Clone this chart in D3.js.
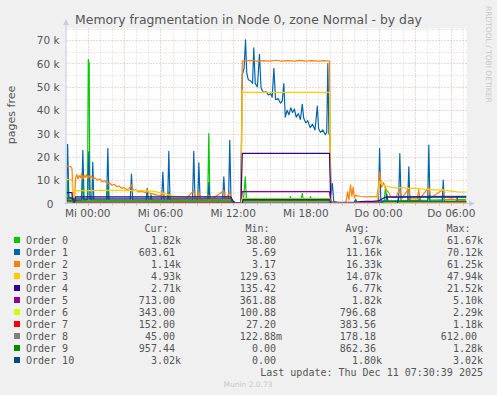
<!DOCTYPE html>
<html>
<head>
<meta charset="utf-8">
<script src="https://cdn.jsdelivr.net/npm/d3@7/dist/d3.min.js"></script>
<style>
body { margin: 0; background: #f0f0f0; }
svg { display: block; }
text { font-family: "DejaVu Sans", sans-serif; }
.mono { font-family: "DejaVu Sans Mono", monospace; font-size: 10px; fill: #555; }
</style>
</head>
<body>
<svg id="chart" width="497" height="395"></svg>
<script>
// samples: [hours since Mi 00:00, thousand pages free]
var order0 = [[-1.75,1.0],[-1.7,1.1],[-1.65,10],[-1.55,1.2],[-1.25,0.8],[-1.12,0.3],[-1.0,1.2],[-0.5,1.3],[-0.42,13],[-0.34,1.4],[-0.02,1.5],[0.05,61.7],[0.12,60],[0.18,1.5],[0.8,1.3],[1.58,1.5],[1.66,8],[1.74,1.4],[3.0,1.2],[5.15,1.3],[5.22,4],[5.3,1.2],[6.62,1.2],[6.7,5],[6.78,1.2],[9.9,1.3],[9.99,30],[10.08,1.3],[11.2,1.2],[11.8,1.0],[12.15,0.1],[12.7,0.2],[12.85,1.5],[13.0,11.4],[13.1,1.5],[16.65,1.5],[16.73,3],[16.8,1.5],[17.62,1.6],[17.7,4.2],[17.78,1.6],[18.3,1.5],[18.38,3],[18.45,1.5],[19.95,1.5],[20.1,0.3],[22.0,0.4],[22.1,2],[22.2,0.5],[24.45,0.8],[24.57,7],[24.7,0.9],[26.45,1.2],[26.52,3],[26.6,1.2],[28.05,1.5],[28.14,3.5],[28.22,1.5],[30.5,1.7],[31.25,1.82]];
var order1 = [[-1.75,2],[-1.66,25.4],[-1.56,3],[-1.3,2],[-1.15,0.5],[-1.0,1.5],[-0.5,1.5],[-0.4,22.8],[-0.3,1.5],[0.0,1.8],[0.09,22.1],[0.2,2],[0.34,1.5],[0.42,17.6],[0.5,1.5],[1.56,1.5],[1.66,23.6],[1.76,1.5],[3.51,1.5],[3.61,12.6],[3.71,1.5],[4.82,1.5],[4.91,6.5],[5.0,1.5],[6.1,1.5],[6.2,13.5],[6.3,1.5],[6.6,1.5],[6.69,22.4],[6.79,1.5],[8.65,1.5],[8.75,22.4],[8.85,1.5],[9.08,1.5],[9.17,17.4],[9.27,1.5],[9.92,1.5],[10.0,9],[10.08,1.5],[11.13,1.5],[11.23,11.4],[11.33,1.5],[11.62,1.5],[11.72,27.1],[11.82,1.2],[12.0,0.5],[12.62,0.2],[12.75,55],[12.9,58],[13.02,70.1],[13.12,56],[13.25,53],[13.45,52.5],[13.6,51.5],[13.7,66.7],[13.82,51.5],[14.0,50],[14.17,63.9],[14.3,49.5],[14.5,47.5],[14.7,48],[14.9,46.5],[15.1,47],[15.22,45.5],[15.36,57.9],[15.5,44.5],[15.7,45],[15.91,43],[16.05,44],[16.18,51.4],[16.3,37],[16.45,40],[16.6,38],[16.75,41],[16.9,39],[17.05,40.5],[17.2,37],[17.38,38.5],[17.55,36],[17.7,42.5],[17.82,36.5],[18.0,34.5],[18.15,35.5],[18.35,32.5],[18.55,34],[18.75,31.5],[18.94,41.7],[19.05,32],[19.2,30.5],[19.4,31.5],[19.6,29.5],[19.72,30.5],[19.81,60],[19.9,30],[19.98,29],[20.08,4],[20.18,8.5],[20.3,0.8],[20.6,0.5],[22.0,0.4],[22.1,1.5],[22.2,0.5],[23.98,0.6],[24.08,23.6],[24.18,1.2],[24.6,1.0],[24.68,4],[24.76,1.0],[25.65,1.0],[25.75,21.4],[25.85,1.0],[26.4,1.0],[26.49,15.7],[26.58,1.0],[27.3,1.0],[27.38,3],[27.46,1.0],[28.05,1.0],[28.14,25],[28.23,1.0],[29.25,1.0],[29.33,10],[29.42,0.9],[30.4,0.8],[30.48,2.5],[30.56,0.7],[31.25,0.6]];
var order2 = [[-1.75,16],[-1.4,15.8],[-1.3,15],[-1.2,3],[-1.1,1],[-1.0,11],[-0.9,12.5],[-0.8,10.5],[-0.7,12],[-0.6,11],[-0.5,12.8],[-0.4,10.5],[-0.3,12],[-0.2,11.2],[-0.1,12.5],[0.0,10.8],[0.1,12],[0.2,11],[0.3,11.8],[0.45,10.5],[0.6,11],[0.8,10],[1.0,10.5],[1.2,9.3],[1.4,9.8],[1.6,8.5],[1.8,8.8],[2.0,7.8],[2.2,8.2],[2.4,7.2],[2.6,7.5],[2.8,6.5],[3.0,6.8],[3.2,6],[3.4,6.2],[3.61,8],[3.75,5.6],[4.0,5.8],[4.2,5],[4.5,5.2],[4.8,4.6],[4.91,6],[5.0,4.5],[5.3,4.2],[5.6,3.8],[6.0,3.2],[6.2,5],[6.35,2.5],[6.69,4],[6.8,2],[7.5,1.8],[8.0,1.5],[8.75,5.5],[8.9,1.5],[9.17,5],[9.3,1.5],[10.0,3.5],[10.1,1.4],[11.23,5.5],[11.35,1.4],[11.72,5],[11.85,1.0],[12.1,0.3],[12.65,0.3],[12.75,61],[13.5,61.3],[14,61],[14.5,61.2],[15,61],[15.5,61.4],[16,61],[16.5,61.2],[17,61],[17.5,61.3],[18,61],[18.5,61.2],[19,61],[19.5,61.2],[19.95,61],[20.05,1],[20.3,0.4],[21.3,0.5],[21.44,5],[21.55,1.5],[21.68,8],[21.8,3],[21.9,7],[22.0,2.5],[22.1,3.5],[22.5,3],[23,2.8],[23.5,3],[23.85,2.8],[24.0,8],[24.08,13.5],[24.25,7],[24.4,9],[24.6,6],[24.8,5],[25.0,3],[25.4,2.5],[25.75,6],[25.9,2],[26.49,6.5],[26.6,2],[27.2,2],[27.3,6],[27.4,2],[28.14,7],[28.3,2.5],[29.33,6],[29.45,1.5],[30.0,2],[30.5,1.5],[31.25,1.14]];
var order3 = [[-1.75,10.2],[-1.3,10.2],[-1.25,5],[-1.15,0.5],[-1.05,5.5],[0,5.5],[2,5.6],[4,5.5],[5.0,5.4],[5.5,5.2],[6.0,4.6],[6.5,4],[7.0,3.3],[7.5,2.8],[8.0,2.5],[9.0,2.3],[10.0,2.0],[11.0,2.0],[11.8,1.8],[12.1,0.5],[12.65,0.4],[12.75,48.5],[12.9,47.6],[19.95,47.6],[20.05,0.5],[23.9,0.4],[24.05,9.5],[24.3,8],[24.6,7.5],[25.0,7],[25.5,6.6],[26.0,6.8],[26.5,6.5],[27.0,6.6],[27.5,6.3],[28.0,6.2],[28.5,5.8],[29.0,5.8],[29.5,5.6],[30.0,5.3],[30.5,5.0],[31.25,4.93]];
var order4 = [[-1.75,4.7],[-1.3,4.7],[-1.25,0.5],[-1.1,0.3],[-1.0,2.9],[11.8,2.9],[12.0,1.0],[12.2,0.3],[12.65,0.2],[12.75,21.5],[19.95,21.5],[20.05,0.3],[21.0,0.2],[22.0,0.3],[22.5,0.8],[23.0,0.9],[23.5,0.9],[24.0,1.1],[24.3,2.0],[24.6,2.8],[31.25,2.71]];
var order5 = [[-1.75,1.5],[11.8,1.5],[12.1,0.4],[12.65,0.4],[12.75,5.1],[19.95,5.1],[20.05,0.5],[24,0.5],[24.5,0.7],[31.25,0.71]];
var order6 = [[-1.75,0.7],[-1.0,0.8],[0,1.0],[11.8,1.0],[12.1,0.2],[12.65,0.1],[12.75,2.2],[19.95,2.2],[20.05,0.2],[24,0.2],[24.5,0.35],[31.25,0.34]];
var order7 = [[-1.75,1.18],[-1.2,1.1],[-1.0,0.4],[11.8,0.4],[12.1,0.05],[12.75,0.05],[12.8,0.6],[19.95,0.6],[20.05,0.1],[31.25,0.15]];
var order8 = [[-1.75,0.3],[11.8,0.2],[12.1,0],[12.75,0],[12.8,0.4],[19.95,0.4],[20.05,0.05],[31.25,0.045]];
var order9 = [[-1.75,1.0],[11.8,1.0],[12.1,0],[12.75,0],[12.8,1.2],[19.95,1.2],[20.05,0.0],[24.0,0.1],[24.5,0.9],[31.25,0.96]];
var order10 = [[-1.75,2.3],[-1.2,2.3],[-1.1,0.3],[-1.0,2.3],[11.8,2.3],[12.1,0],[12.75,0],[12.8,1.8],[19.95,1.8],[20.05,0],[25.55,0],[25.64,3.0],[31.25,3.02]];

var names = ["Order 0","Order 1","Order 2","Order 3","Order 4","Order 5","Order 6","Order 7","Order 8","Order 9","Order 10"];
var colors = ["#00CC00","#0066B3","#FF8000","#FFCC00","#330099","#990099","#CCFF00","#FF0000","#808080","#008F00","#00487D"];
var curVals = ["1.82k","603.61","1.14k","4.93k","2.71k","713.00","343.00","152.00","45.00","957.44","3.02k"];
var minVals = ["38.80","5.69","3.17","129.63","135.42","361.88","100.88","27.20","122.88m","0.00","0.00"];
var avgVals = ["1.67k","11.16k","16.33k","14.07k","6.77k","1.82k","796.68","383.56","178.18","862.36","1.80k"];
var maxVals = ["61.67k","70.12k","61.25k","47.94k","21.52k","5.10k","2.29k","1.18k","612.00","1.28k","3.02k"];
var yTicks = [0,10,20,30,40,50,60,70];
var dayNames = ["So","Mo","Di","Mi","Do","Fr","Sa"];

var series = [order0, order1, order2, order3, order4, order5, order6, order7, order8, order9, order10];

var base = new Date(2025, 11, 10, 0, 0, 0);
function toDate(h) { return new Date(base.getTime() + h * 3600e3); }

var svg = d3.select("#chart"),
    margin = {left: 66.5, right: 466.5, top: 28.5, bottom: 203.5};

var x = d3.scaleTime()
	.domain([toDate(-1.75), toDate(31.25)])
	.range([margin.left, margin.right]);
var y = d3.scaleLinear()
	.domain([0, 75])
	.range([margin.bottom, margin.top]);

svg.append("rect")
	.attr("x", margin.left).attr("y", margin.top)
	.attr("width", margin.right - margin.left).attr("height", margin.bottom - margin.top)
	.attr("fill", "#fff");

// grid
var hours = d3.timeHour.every(1).range(x.domain()[0], x.domain()[1]);
var grid = svg.append("g").attr("fill", "none").attr("stroke-width", 1).attr("stroke-dasharray", "1,2");
grid.selectAll(".vg").data(hours).enter().append("line")
	.attr("x1", d => Math.round(x(d)) + 0.5).attr("x2", d => Math.round(x(d)) + 0.5)
	.attr("y1", margin.top).attr("y2", margin.bottom)
	.attr("stroke", d => d.getHours() % 3 === 0 ? "#e8a8a8" : "#d4d4d4");
grid.selectAll(".hg").data(d3.range(5, 80, 5)).enter().append("line")
	.attr("x1", margin.left).attr("x2", margin.right)
	.attr("y1", d => Math.round(y(d)) + 0.5).attr("y2", d => Math.round(y(d)) + 0.5)
	.attr("stroke", d => d % 10 === 0 ? "#e8a8a8" : "#d4d4d4");

// lines
svg.append("clipPath").attr("id", "clip").append("rect")
	.attr("x", margin.left).attr("y", margin.top - 2)
	.attr("width", margin.right - margin.left).attr("height", margin.bottom - margin.top + 2);

var line = d3.line()
	.x(d => x(toDate(d[0])))
	.y(d => y(d[1]));

svg.append("g").attr("clip-path", "url(#clip)")
	.selectAll("path").data(series).enter().append("path")
	.attr("fill", "none")
	.attr("stroke", (d, i) => colors[i])
	.attr("stroke-width", 1.2)
	.attr("stroke-linejoin", "round")
	.attr("d", line);

// axes
var axisColor = "#c8cce8";
svg.append("line").attr("x1", margin.left - 0.5).attr("x2", margin.left - 0.5)
	.attr("y1", margin.bottom + 1).attr("y2", 24).attr("stroke", axisColor);
svg.append("line").attr("x1", margin.left - 2).attr("x2", 470)
	.attr("y1", margin.bottom).attr("y2", margin.bottom).attr("stroke", axisColor);
svg.append("path").attr("d", "M" + (margin.left - 3.5) + ",25L" + (margin.left - 0.5) + ",19L" + (margin.left + 2.5) + ",25Z").attr("fill", axisColor);
svg.append("path").attr("d", "M469," + (margin.bottom - 3) + "L475," + margin.bottom + "L469," + (margin.bottom + 3) + "Z").attr("fill", axisColor);

svg.append("g").selectAll("line").data(hours).enter().append("line")
	.attr("x1", d => Math.round(x(d)) + 0.5).attr("x2", d => Math.round(x(d)) + 0.5)
	.attr("y1", margin.bottom).attr("y2", margin.bottom + 2)
	.attr("stroke", d => d.getHours() % 3 === 0 ? "#e8a8a8" : "#c8c8c8");

var fmtTime = d3.timeFormat("%H:%M");
svg.append("g").selectAll("text")
	.data(hours.filter(d => d.getHours() % 6 === 0))
	.enter().append("text")
	.attr("x", d => x(d)).attr("y", 217)
	.attr("text-anchor", "middle")
	.attr("font-size", "10.5px").attr("fill", "#555")
	.text(d => dayNames[d.getDay()] + " " + fmtTime(d));

svg.append("g").selectAll("text").data(yTicks).enter().append("text")
	.attr("x", d => d === 0 ? 53.5 : 59.5)
	.attr("y", d => y(d) + 4)
	.attr("text-anchor", "end")
	.attr("font-size", "10.5px").attr("fill", "#555")
	.text(d => d === 0 ? "0" : d + " k");

svg.append("text")
	.attr("transform", "translate(15,115) rotate(-90)")
	.attr("text-anchor", "middle")
	.attr("font-size", "11px").attr("fill", "#555")
	.text("pages free");

svg.append("text")
	.attr("x", 248.5).attr("y", 24)
	.attr("text-anchor", "middle")
	.attr("font-size", "12.4px").attr("fill", "#555")
	.text("Memory fragmentation in Node 0, zone Normal - by day");

svg.append("text")
	.attr("transform", "translate(485.5,6) rotate(90)")
	.attr("font-size", "7.5px").attr("fill", "#c8c8c8")
	.text("RRDTOOL / TOBI OETIKER");

// legend
var cols = [181, 282, 382, 483];
var heads = ["Cur:", "Min:", "Avg:", "Max:"];
var leg = svg.append("g");
heads.forEach(function(h, j) {
	leg.append("text").attr("class", "mono")
		.attr("x", cols[j] - 12.5).attr("y", 231.5)
		.attr("text-anchor", "end").text(h);
});
function pad(v) { return /[km]$/.test(v) ? v : v + "\u00a0"; }
names.forEach(function(n, i) {
	var yy = 243.5 + i * 12;
	leg.append("rect").attr("x", 14).attr("y", yy - 6.5).attr("width", 6).attr("height", 6).attr("fill", colors[i]);
	leg.append("text").attr("class", "mono").attr("x", 26).attr("y", yy).text(n);
	[curVals[i], minVals[i], avgVals[i], maxVals[i]].forEach(function(v, j) {
		leg.append("text").attr("class", "mono")
			.attr("x", cols[j]).attr("y", yy)
			.attr("text-anchor", "end").text(pad(v));
	});
});
leg.append("text").attr("class", "mono")
	.attr("x", 483).attr("y", 375.5).attr("text-anchor", "end")
	.text("Last update: Thu Dec 11 07:30:39 2025");
svg.append("text")
	.attr("x", 248).attr("y", 387)
	.attr("text-anchor", "middle")
	.attr("font-size", "7.5px").attr("fill", "#c8c8c8")
	.text("Munin 2.0.73");
</script>
</body>
</html>
